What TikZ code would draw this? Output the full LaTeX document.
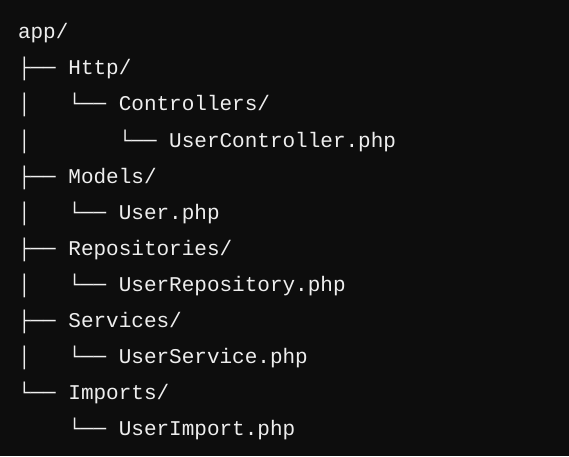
\documentclass[tikz,border=0pt]{standalone}
\usepackage{fontspec}
\newfontfamily\treefont{Liberation Mono}
\definecolor{bgdark}{RGB}{13,13,13}
\definecolor{txtlight}{RGB}{238,238,238}
\begin{document}
\begin{tikzpicture}[x=1pt,y=1pt,
  tt/.style={anchor=base west,inner sep=0pt,outer sep=0pt,text=txtlight,font=\treefont\fontsize{21}{25}\selectfont}]
\useasboundingbox (0,0) rectangle (569,456);
\fill[bgdark] (0,0) rectangle (569,456);
% row r baseline y = 417 - 36 r ; column c x = 18 + 12.6 c
\node[tt] (r0n) at (18,417) {app/};
\node[tt] (r1b) at (18,381) {├──};
\node[tt] (r1n) at (68.4,381) {Http/};
\node[tt] (r2v) at (18,345) {│};
\node[tt] (r2b) at (68.4,345) {└──};
\node[tt] (r2n) at (118.8,345) {Controllers/};
\node[tt] (r3v) at (18,309) {│};
\node[tt] (r3b) at (118.8,309) {└──};
\node[tt] (r3n) at (169.2,309) {UserController.php};
\node[tt] (r4b) at (18,273) {├──};
\node[tt] (r4n) at (68.4,273) {Models/};
\node[tt] (r5v) at (18,237) {│};
\node[tt] (r5b) at (68.4,237) {└──};
\node[tt] (r5n) at (118.8,237) {User.php};
\node[tt] (r6b) at (18,201) {├──};
\node[tt] (r6n) at (68.4,201) {Repositories/};
\node[tt] (r7v) at (18,165) {│};
\node[tt] (r7b) at (68.4,165) {└──};
\node[tt] (r7n) at (118.8,165) {UserRepository.php};
\node[tt] (r8b) at (18,129) {├──};
\node[tt] (r8n) at (68.4,129) {Services/};
\node[tt] (r9v) at (18,93) {│};
\node[tt] (r9b) at (68.4,93) {└──};
\node[tt] (r9n) at (118.8,93) {UserService.php};
\node[tt] (r10b) at (18,57) {└──};
\node[tt] (r10n) at (68.4,57) {Imports/};
\node[tt] (r11b) at (68.4,21) {└──};
\node[tt] (r11n) at (118.8,21) {UserImport.php};
\end{tikzpicture}
\end{document}
